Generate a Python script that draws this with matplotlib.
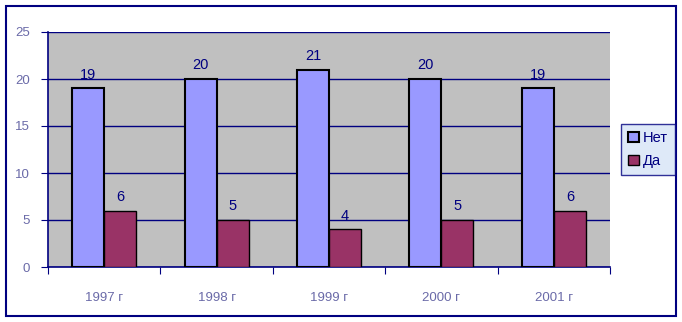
import matplotlib
matplotlib.use("Agg")
import matplotlib.pyplot as plt
import numpy as np
from matplotlib.patches import Rectangle

years = ["1997 г", "1998 г", "1999 г", "2000 г", "2001 г"]
net = [19, 20, 21, 20, 19]
da = [6, 5, 4, 5, 6]

plt.rcParams['font.family'] = ['Liberation Sans', 'DejaVu Sans']

fig = plt.figure(figsize=(6.82, 3.22), dpi=100)
ax = fig.add_axes([48/682, 55/322, 562/682, 235/322])
ax.set_facecolor('#c0c0c0')

x = np.arange(len(years))
w = 0.285
b1 = ax.bar(x - w/2, net, w, color='#9999ff', edgecolor='black', linewidth=1.5, label='Нет', zorder=3)
b2 = ax.bar(x + w/2, da, w, color='#993366', edgecolor='black', linewidth=1.0, label='Да', zorder=3)

for bars, vals in ((b1, net), (b2, da)):
    for r, v in zip(bars, vals):
        ax.text(r.get_x() + r.get_width()/2, v + 0.7, str(v), ha='center', va='bottom',
                color='#000080', fontsize=10.5)

ax.set_xlim(-0.5, 4.5)
ax.set_ylim(0, 25)
ax.set_yticks(range(0, 26, 5))
ax.yaxis.grid(True, color='#000080', linewidth=1, zorder=1)
ax.set_axisbelow(True)

ax.set_xticks(np.arange(-0.5, 5, 1))
ax.set_xticklabels([])
ax.set_xticks(x, minor=True)
ax.set_xticklabels(years, minor=True, color='#6a6aa8', fontsize=9.5)
ax.tick_params(axis='x', which='minor', length=0, pad=18)
ax.tick_params(axis='x', which='major', length=5, color='#000080', direction='out')
ax.tick_params(axis='y', length=5, color='#000080', labelcolor='#6a6aa8', labelsize=9.5, pad=8)

for s in ['top', 'right']:
    ax.spines[s].set_visible(False)
ax.spines['left'].set_color('#000080')
ax.spines['bottom'].set_color('#000080')
ax.spines['left'].set_linewidth(1.2)
ax.spines['bottom'].set_linewidth(1.2)

leg = fig.legend(handles=[b1, b2], loc='center left', bbox_to_anchor=(621/682, 0.535),
                 frameon=True, fancybox=False, fontsize=10.5, handlelength=0.7,
                 handleheight=0.7, handletextpad=0.3, borderpad=0.5, labelspacing=0.6,
                 borderaxespad=0)
leg.get_frame().set_facecolor('#d6e4f7')
leg.get_frame().set_edgecolor('#000080')
leg.get_frame().set_linewidth(1.0)
for t in leg.get_texts():
    t.set_color('#000080')

fig.patches.append(Rectangle((6/682, 6/322), 670/682, 310/322, transform=fig.transFigure,
                             fill=False, edgecolor='#000080', linewidth=1.5))

fig.savefig("out.png", dpi=100)
